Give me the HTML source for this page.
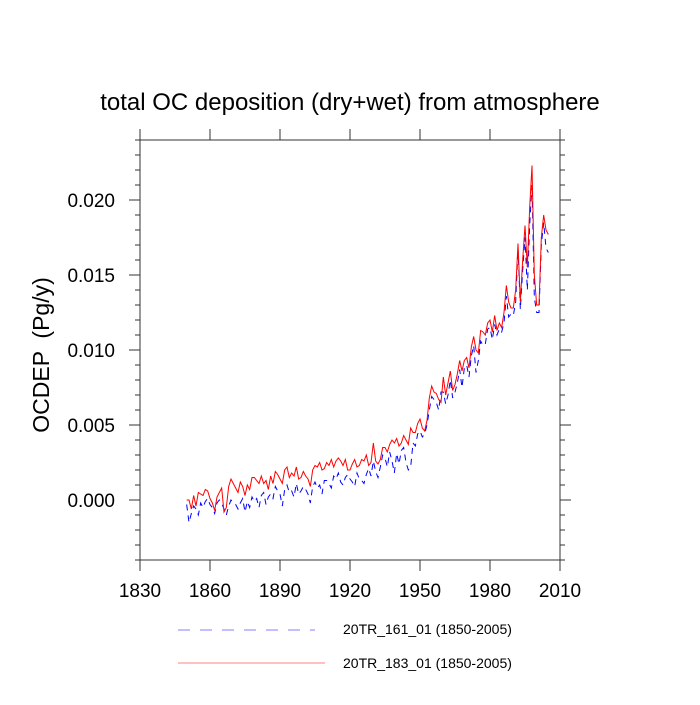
<!DOCTYPE html>
<html><head><meta charset="utf-8"><style>
body{margin:0;background:#fff}
svg text{font-family:"Liberation Sans",sans-serif;fill:#000}
</style></head><body>
<svg id="chart" width="700" height="700" xmlns="http://www.w3.org/2000/svg">
<text x="350" y="110" font-size="24" text-anchor="middle">total OC deposition (dry+wet) from atmosphere</text>
<text transform="translate(49,355) rotate(-90)" font-size="23" text-anchor="middle" xml:space="preserve" style="white-space:pre">OCDEP  (Pg/y)</text>
<rect x="140" y="140" width="420" height="420" fill="none" stroke="#333" stroke-width="1"/>
<g id="axes"></g>
<g id="series"></g>
<g>
<line x1="178" y1="630" x2="315" y2="630" stroke="#8080ff" stroke-width="1" stroke-dasharray="12,10"/>
<text x="343" y="634" font-size="14">20TR_161_01 (1850-2005)</text>
<line x1="178" y1="663" x2="325" y2="663" stroke="#ff8080" stroke-width="1"/>
<text x="343" y="668" font-size="14">20TR_183_01 (1850-2005)</text>
</g>
</svg>
<script>
const startYear = 1850;
const red183 = [0.0,0.0,-0.6,0.3,-0.4,0.5,0.4,0.3,0.7,0.6,
0.1,-0.2,-0.7,0.2,0.5,0.8,-0.8,-0.5,0.9,1.4,
1.1,0.8,0.5,1.2,0.9,0.3,1.0,0.7,1.5,1.5,
1.3,1.1,1.6,1.1,1.3,0.7,1.6,1.1,1.9,1.7,
1.4,1.1,2.0,2.2,1.5,1.8,1.6,2.2,1.4,1.5,
1.9,1.6,1.4,0.9,2.0,2.3,2.2,2.5,2.0,2.1,
2.5,2.3,2.7,2.2,2.6,2.8,2.6,2.3,2.7,2.0,
2.0,2.4,2.7,2.2,2.3,2.7,2.6,3.0,2.3,2.5,
3.8,2.6,2.4,2.7,3.5,3.5,3.2,3.7,4.0,3.8,
4.1,3.6,3.8,4.3,4.0,3.7,4.8,4.5,4.5,5.1,
5.4,4.8,4.6,5.3,6.8,7.6,7.2,7.1,6.7,6.5,
8.2,7.0,7.8,8.6,7.3,7.7,8.4,9.3,8.6,9.3,
9.5,8.8,10.2,10.9,10.0,9.8,11.3,11.2,11.0,11.8,
12.0,11.2,12.3,11.3,11.8,11.5,12.5,14.3,13.2,12.8,
12.8,14.0,17.1,13.2,16.0,18.3,15.5,19.5,22.3,15.0,
13.0,13.0,17.5,19.0,18.0,17.7];
const blue161 = [-0.3,-1.5,-0.9,-0.4,-0.6,-1.0,-0.2,-0.5,-0.1,0.1,
-0.3,-0.5,-0.9,-0.2,0.0,-0.2,-0.6,-1.0,-0.4,0.0,
-0.2,-0.3,-0.6,-0.2,0.1,-0.8,-0.1,-0.5,0.2,-0.1,
0.1,-0.5,0.3,0.5,-0.3,0.2,0.4,0.1,0.9,0.6,
0.4,-0.4,0.7,1.0,0.5,0.6,0.2,1.1,0.4,0.6,
0.9,0.7,0.4,-0.2,0.9,1.2,0.8,1.0,0.4,1.3,
1.3,1.1,0.8,1.6,1.4,1.8,1.2,1.0,1.5,1.7,
1.4,1.2,0.9,1.8,1.4,1.3,1.1,1.7,2.1,1.6,
2.6,1.9,1.5,2.2,3.0,2.8,2.2,3.2,2.6,1.8,
3.1,2.4,3.3,3.5,2.5,2.0,2.2,3.8,3.6,4.4,
4.6,4.2,4.4,5.0,6.0,6.9,6.7,6.5,6.0,7.2,
7.2,6.4,7.0,8.0,6.8,7.2,7.8,8.7,7.5,8.8,
9.0,8.2,9.6,10.3,8.5,9.3,10.6,10.3,10.4,11.4,
11.5,10.7,11.7,11.0,11.4,11.2,11.8,13.6,12.2,12.4,
12.3,13.2,16.8,12.7,15.3,17.5,14.0,18.3,21.0,13.5,
12.5,12.5,17.0,18.5,16.8,16.5];
const xTicks = [1830,1860,1890,1920,1950,1980,2010];
const yTicks = [0.000,0.005,0.010,0.015,0.020];
const yTickLabels = ["0.000","0.005","0.010","0.015","0.020"];

const X = yr => 140 + (yr - 1830) * 420 / 180;
const Y = v => 500 - v * 15000;
const NS = "http://www.w3.org/2000/svg";
const axes = document.getElementById('axes');
const series = document.getElementById('series');
function mk(tag, attrs, parent){const e=document.createElementNS(NS,tag);for(const k in attrs)e.setAttribute(k,attrs[k]);parent.appendChild(e);return e;}

xTicks.forEach(t=>{
  const x = X(t);
  const a = mk('line',{x1:x,y1:560,x2:x,y2:571,stroke:'#333'},axes);
  
  
  const b = mk('line',{x1:x,y1:140,x2:x,y2:129,stroke:'#333'},axes);
  
  
  const tx = mk('text',{x:x,y:597,'font-size':19,'text-anchor':'middle'},axes);
  tx.textContent = t;
  
  
});
for(let v=-4; v<=24; v++){
  const y = Y(v/1000);
  const major = (v % 5 === 0);
  const len = major ? 11 : 5;
  const a = mk('line',{x1:140,y1:y,x2:140-len,y2:y,stroke:'#333'},axes);
  
  
  const b = mk('line',{x1:560,y1:y,x2:560+len,y2:y,stroke:'#333'},axes);
  
  
}
yTicks.forEach((t,i)=>{
  const tx = mk('text',{x:115,y:Y(t)+7,'font-size':19,'text-anchor':'end'},axes);
  tx.textContent = yTickLabels[i];
  
  
});
function pts(arr){return arr.map((v,i)=>X(startYear+i).toFixed(2)+','+Y(v/1000).toFixed(2)).join(' ');}
const bl = mk('polyline',{points:pts(blue161),fill:'none',stroke:'#0000ff','stroke-width':1,'stroke-dasharray':'6,5'},series);


const rl = mk('polyline',{points:pts(red183),fill:'none',stroke:'#ff0000','stroke-width':1},series);


</script>
</body></html>
